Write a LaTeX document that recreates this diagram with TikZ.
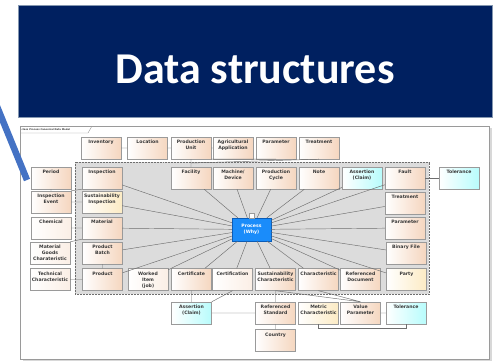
\documentclass[tikz,border=0pt]{standalone}
\usepackage{fontspec}
\setmainfont{DejaVu Sans}
\newfontfamily\headfont{Carlito}
\usetikzlibrary{shadows,calc}
\definecolor{navy}{HTML}{002060}
\definecolor{navyedge}{HTML}{8497B0}
\definecolor{peach}{HTML}{F5D6BF}
\definecolor{aqua}{HTML}{B8FCFC}
\definecolor{creamy}{HTML}{FCEBC4}
\definecolor{boxline}{HTML}{9A9A9A}
\definecolor{linegray}{HTML}{6E6E6E}
\definecolor{zone}{HTML}{DCDCDC}
\definecolor{procblue}{HTML}{1A8CFA}
\definecolor{procedge}{HTML}{0A5CB8}
\definecolor{callout}{HTML}{4472C4}
\definecolor{labtext}{HTML}{383838}
\tikzset{
lab/.style={anchor=north, yshift=-3pt, inner sep=0.4pt, align=center, text=labtext,
  font=\fontsize{4.6}{6}\selectfont\bfseries},
cell/.style={rectangle, draw=boxline, line width=0.4pt, minimum width=40pt, minimum height=22pt,
  inner sep=0pt, drop shadow={shadow xshift=0.9pt, shadow yshift=-0.9pt, opacity=0.35},
  label={[lab]north:{#1}}},
box/.style={cell=#1, left color=white, right color=peach},
pale/.style={cell=#1, left color=white, right color=peach!40},
claim/.style={cell=#1, left color=white, right color=aqua},
cream/.style={cell=#1, left color=white, right color=creamy},
procbox/.style={rectangle, draw=procedge, fill=procblue, line width=0.4pt, minimum width=39pt,
  minimum height=23pt, inner sep=0pt, align=center, text=white,
  font=\fontsize{4.6}{6}\selectfont\bfseries},
link/.style={draw=linegray, line width=0.45pt},
}

\begin{document}
\begin{tikzpicture}[x=1pt, y=-1pt]
\useasboundingbox (0,0) rectangle (500,361);
\fill[white] (0,0) rectangle (500,361);

\fill[drop shadow={shadow xshift=2.5pt, shadow yshift=-2pt, opacity=0.3}, white] (20,126) rectangle (489,359);
\draw[boxline, line width=0.6pt] (20,126) rectangle (489,359);
\draw[boxline, line width=0.4pt] (20,133) -- (88,133) -- (92,126);
\node[anchor=west, inner sep=0pt, text=labtext, font=\fontsize{2.4}{3}\selectfont\bfseries] (frame) at (21.5,129.5) {class Process Canonical Data Model};
\filldraw[fill=zone, draw=linegray, line width=0.5pt, densely dotted] (75,162) rectangle (429,294);

\filldraw[fill=navy, draw=navyedge, line width=0.7pt] (18,5) rectangle (492,117);
\node[anchor=base, text=white, font=\headfont\fontsize{44}{50}\selectfont\bfseries] (title) at (255,83) {Data structures};
\draw[callout, line width=6.5pt] (-4,104) -- (27,180);

\node[box=Inventory] (inv) at (101,148) {};
\node[box=Location] (loc) at (147.5,148) {};
\node[box={Production\\Unit}] (punit) at (191,148) {};
\node[box={Agricultural\\Application}] (agri) at (233,148) {};
\node[box=Parameter] (param1) at (276,148) {};
\node[box=Treatment] (treat1) at (319,148) {};

\node[box=Period] (period) at (51,178) {};
\node[box=Inspection] (insp) at (102,178) {};
\node[box=Facility] (fac) at (191,178) {};
\node[box={Machine/\\Device}] (mach) at (233,178) {};
\node[box={Production\\Cycle}] (pcyc) at (276,178) {};
\node[box=Note] (note) at (319,178) {};
\node[claim={Assertion\\(Claim)}] (claim1) at (362,178) {};
\node[box=Fault] (fault) at (405,178) {};
\node[claim=Tolerance] (tol1) at (459,178) {};

\node[box={Inspection\\Event}] (ievent) at (51,202) {};
\node[cream={Sustainability\\Inspection}] (sinsp) at (102,202) {};
\node[box=Treatment] (treat2) at (405,203) {};

\node[pale=Chemical] (chem) at (51,228) {};
\node[box=Material] (mat) at (102,228) {};
\node[procbox] (proc) at (251.5,229.5) {Process\\(Why)};
\draw[boxline, fill=white, line width=0.4pt] ($(proc.north)+(-2.5,0)$) rectangle ($(proc.north)+(2.5,-5)$);
\node[box=Parameter] (param2) at (405,228) {};

\node[pale={Material\\Goods\\Charateristic}] (mgc) at (50,253) {};
\node[box={Product\\Batch}] (pbatch) at (102.5,253) {};
\node[box=Binary File] (bfile) at (406,253) {};

\node[pale={Technical\\Characteristic}] (tech) at (50,279.5) {};
\node[box=Product] (prod) at (102.5,279.5) {};
\node[pale={Worked\\Item\\(job)}] (witem) at (148,279.5) {};
\node[box=Certificate] (cert) at (191.5,279.5) {};
\node[pale=Certification] (certn) at (232.5,279.5) {};
\node[box={Sustainability\\Characteristic}] (schar) at (275.5,279.5) {};
\node[box=Characteristic] (char) at (318.5,279.5) {};
\node[box={Referenced\\Document}] (rdoc) at (360.5,279.5) {};
\node[cream=Party] (party) at (406.5,279.5) {};

\node[claim={Assertion\\(Claim)}] (claim2) at (191.5,313) {};
\node[box={Referenced\\Standard}] (rstd) at (275.5,313) {};
\node[cream={Metric\\Characteristic}] (metric) at (318.5,313) {};
\node[box={Value\\Parameter}] (vparam) at (360.5,313) {};
\node[claim=Tolerance] (tol2) at (406,313) {};

\node[box=Country] (country) at (275.5,340.5) {};

\coordinate (pujoin) at (191,163);

\draw[link] (inv) -- (loc) (loc) -- (punit) (punit) -- (agri) (punit) -- (fac)
  (pujoin) -- (treat1.south) (punit.south east) -- (param1.south);
\draw[link] (period) -- (ievent) (ievent.north east) -- (insp.south west) (ievent) -- (sinsp)
  (chem) -- (mat) (mgc.north east) -- (mat.south west) (tech) -- (prod) (pbatch) -- (prod);
\draw[link] (fault) -- (tol1);
\draw[link] (cert) -- (claim2) (certn.south) -- (claim2.north east) (claim2) -- (rstd)
  (schar) -- (rstd) (rstd) -- (country) (schar.south) -- (vparam.north) (char.south) -- (vparam.north)
  (vparam) -- (tol2);
\draw[link] (metric.south) -- ++(0,4) -| (tol2.south);
\draw[link] (proc) -- (insp) (proc) -- (sinsp) (proc) -- (mat) (proc) -- (pbatch) (proc) -- (prod)
  (proc) -- (witem) (proc) -- (cert) (proc) -- (certn) (proc) -- (schar) (proc) -- (char)
  (proc) -- (rdoc) (proc) -- (party) (proc) -- (bfile) (proc) -- (param2) (proc) -- (treat2)
  (proc) -- (fault) (proc) -- (claim1) (proc) -- (note) (proc) -- (pcyc) (proc) -- (mach)
  (proc) -- (fac);
\end{tikzpicture}
\end{document}
